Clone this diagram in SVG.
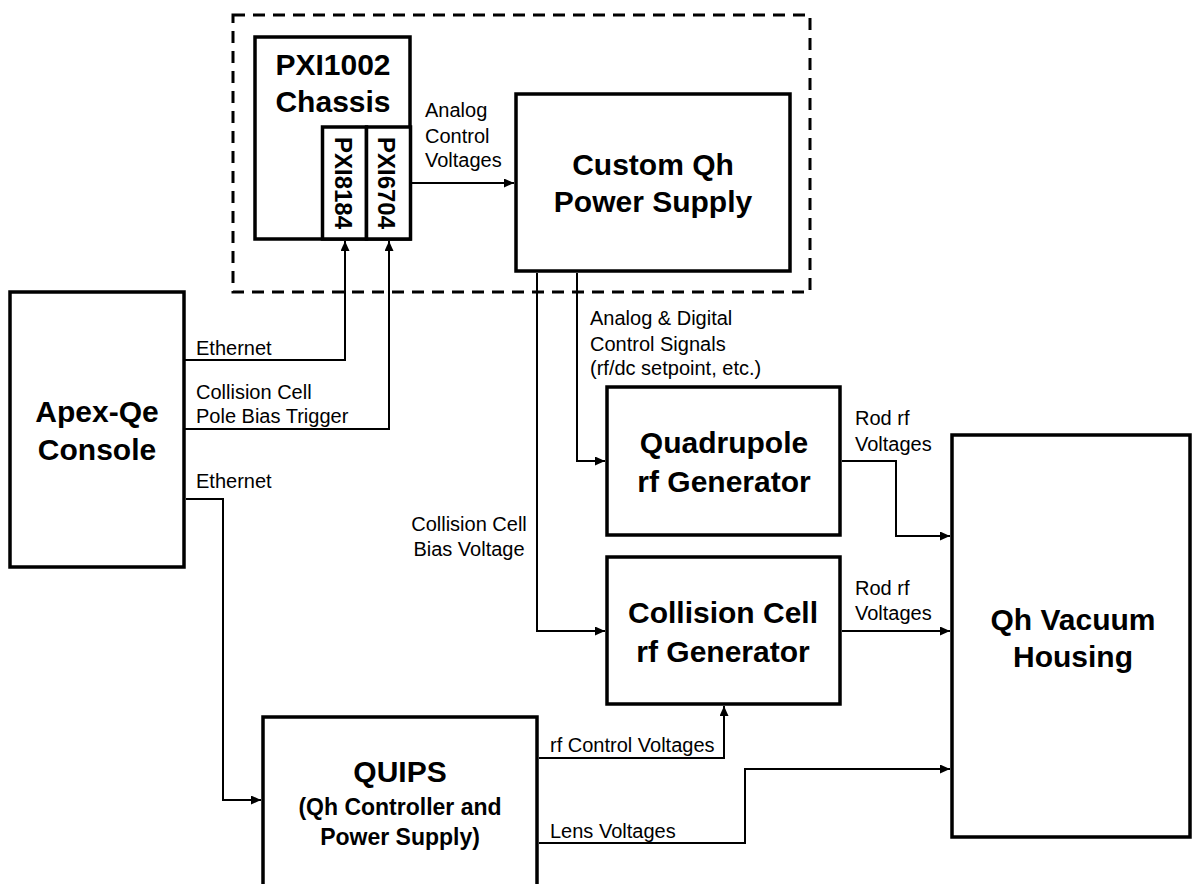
<svg xmlns="http://www.w3.org/2000/svg" width="1193" height="884" viewBox="0 0 1193 884">
<style>
.box{fill:#fff;stroke:#000;stroke-width:3.5}
.dash{fill:none;stroke:#000;stroke-width:3;stroke-dasharray:12 8}
.conn{fill:none;stroke:#000;stroke-width:2;marker-end:url(#arr)}
.t{font-family:"Liberation Sans",Arial,sans-serif;font-weight:bold;font-size:30px;text-anchor:middle;fill:#000}
.ts{font-family:"Liberation Sans",Arial,sans-serif;font-weight:bold;font-size:23px;text-anchor:middle;fill:#000}
.tv{font-family:"Liberation Sans",Arial,sans-serif;font-weight:bold;font-size:24px;text-anchor:middle;fill:#000}
.l{font-family:"Liberation Sans",Arial,sans-serif;font-size:20px;fill:#000}
.lc{font-family:"Liberation Sans",Arial,sans-serif;font-size:20px;fill:#000;text-anchor:middle}
</style>
<defs>
<marker id="arr" markerUnits="userSpaceOnUse" markerWidth="11" markerHeight="10" refX="10" refY="4.5" orient="auto">
<path d="M0,0 L10,4.5 L0,9 z" fill="#000"/>
</marker>
</defs>
<rect width="1193" height="884" fill="#fff"/>
<rect id="pxi-group" class="dash" x="233" y="15" width="577" height="277"/>

<g id="chassis">
<rect class="box" x="255" y="37" width="155" height="202"/>
<text class="t" x="333" y="75">PXI1002</text>
<text class="t" x="333" y="112">Chassis</text>
</g>
<g id="pxi8184">
<rect class="box" x="322.5" y="127" width="44" height="112"/>
<text class="tv" transform="translate(343.5,183) rotate(90)" x="0" y="8.6">PXI8184</text>
</g>
<g id="pxi6704">
<rect class="box" x="366.5" y="127" width="44" height="112"/>
<text class="tv" transform="translate(387,183) rotate(90)" x="0" y="8.6">PXI6704</text>
</g>
<g id="custom">
<rect class="box" x="516" y="94" width="274" height="177"/>
<text class="t" x="653" y="175">Custom Qh</text>
<text class="t" x="653" y="212">Power Supply</text>
</g>
<g id="apex">
<rect class="box" x="10" y="292" width="174" height="275"/>
<text class="t" x="97" y="422">Apex-Qe</text>
<text class="t" x="97" y="460">Console</text>
</g>
<g id="quad">
<rect class="box" x="607" y="387" width="233" height="148"/>
<text class="t" x="724" y="453">Quadrupole</text>
<text class="t" x="724" y="492">rf Generator</text>
</g>
<g id="collision">
<rect class="box" x="607" y="557" width="233" height="147"/>
<text class="t" x="723" y="623">Collision Cell</text>
<text class="t" x="723" y="662">rf Generator</text>
</g>
<g id="vacuum">
<rect class="box" x="952" y="435" width="238" height="402"/>
<text class="t" x="1073" y="630">Qh Vacuum</text>
<text class="t" x="1073" y="667">Housing</text>
</g>
<g id="quips">
<rect class="box" x="263" y="717" width="274" height="200"/>
<text class="t" x="400" y="782">QUIPS</text>
<text class="ts" x="400" y="815">(Qh Controller and</text>
<text class="ts" x="400" y="845">Power Supply)</text>
</g>

<g id="connectors">
<path class="conn" d="M184,360 H345 V241"/>
<path class="conn" d="M184,429 H389 V241"/>
<path class="conn" d="M412,183 H514"/>
<path class="conn" d="M577,273 V461 H605"/>
<path class="conn" d="M537,273 V631 H605"/>
<path class="conn" d="M842,461 H896 V536 H950"/>
<path class="conn" d="M842,631 H950"/>
<path class="conn" d="M186,499 H223 V800 H261"/>
<path class="conn" d="M539,758 H724 V706"/>
<path class="conn" d="M539,843 H745 V769 H950"/>
</g>

<g id="labels">
<text class="l" x="425" y="117">Analog</text>
<text class="l" x="425" y="143">Control</text>
<text class="l" x="425" y="167">Voltages</text>
<text class="l" x="196" y="355">Ethernet</text>
<text class="l" x="196" y="399">Collision Cell</text>
<text class="l" x="196" y="423">Pole Bias Trigger</text>
<text class="l" x="196" y="488">Ethernet</text>
<text class="l" x="590" y="325">Analog &amp; Digital</text>
<text class="l" x="590" y="351">Control Signals</text>
<text class="l" x="590" y="375">(rf/dc setpoint, etc.)</text>
<text class="lc" x="469" y="531">Collision Cell</text>
<text class="lc" x="469" y="556">Bias Voltage</text>
<text class="l" x="855" y="425">Rod rf</text>
<text class="l" x="855" y="451">Voltages</text>
<text class="l" x="855" y="595">Rod rf</text>
<text class="l" x="855" y="620">Voltages</text>
<text class="l" x="550" y="752">rf Control Voltages</text>
<text class="l" x="550" y="838">Lens Voltages</text>
</g>
</svg>
